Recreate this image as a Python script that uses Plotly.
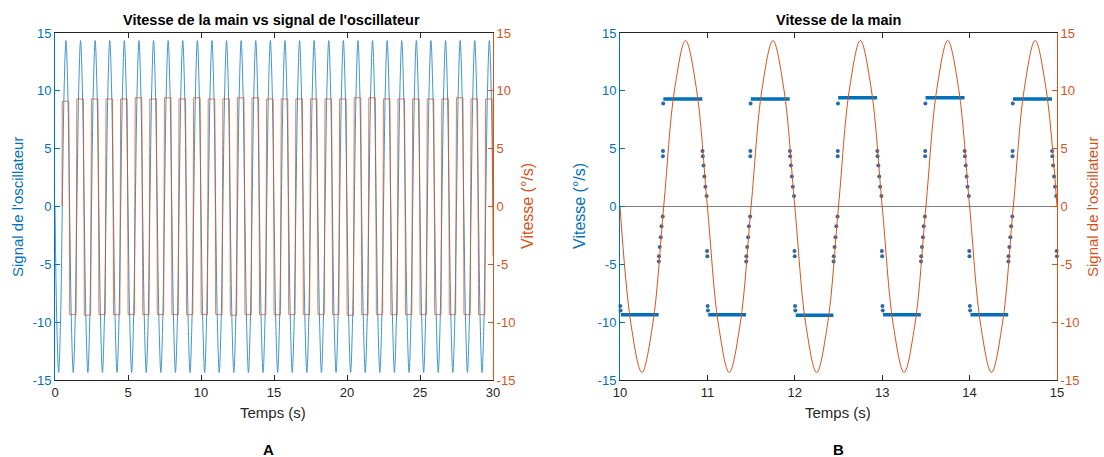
import plotly.graph_objects as go

W, H = 1104, 457

# ---------------- data ----------------
# oscillator signal: one cycle (1 s) sampled every 1/8 s, read from the picture
osc_cycle_t = [0.0, 0.125, 0.25, 0.375, 0.5, 0.625, 0.75, 0.875]
osc_cycle_v = [0.0, -10.15, -14.35, -10.15, 0.0, 10.15, 14.35, 10.15]
osc_duration = 30

# hand velocity: plateau levels per cycle (°/s)
vel_top = [9.1, 9.3, 9.3, 9.3, 9.3, 9.4, 9.3, 9.4, 9.3, 9.4,
           9.3, 9.3, 9.4, 9.4, 9.3, 9.3, 9.3, 9.3, 9.3, 9.3,
           9.4, 9.4, 9.3, 9.3, 9.3, 9.3, 9.3, 9.4, 9.3, 9.3]
vel_bot = [-9.35, -9.4, -9.35, -9.35, -9.35, -9.35, -9.35, -9.35, -9.35, -9.35,
           -9.35, -9.4, -9.35, -9.35, -9.35, -9.35, -9.35, -9.35, -9.35, -9.4,
           -9.35, -9.35, -9.35, -9.35, -9.35, -9.35, -9.35, -9.35, -9.35, -9.35]
# samples around the rising transition (time within cycle, value)
rise_t = [0.444, 0.446, 0.455, 0.466, 0.475, 0.489, 0.491, 0.492, 0.494]
rise_v = [-4.75, -4.3, -3.5, -2.65, -1.7, -0.86, 4.35, 4.8, 8.9]
# samples around the falling transition
fall_t = [0.944, 0.947, 0.956, 0.966, 0.977, 0.991, 0.996, 0.999, 1.003, 1.006]
fall_v = [4.8, 4.35, 3.55, 2.6, 1.7, 0.9, -3.85, -4.3, -8.6, -9.0]
top_start, top_end = 0.496, 0.942
bot_start, bot_end = 1.01, 1.442
vel_start = (0.48, 0.0)

y_ticks = [-15, -10, -5, 0, 5, 10, 15]
y_ticktext = ["-15", "-10", "-5", "0", "5", "10", "15"]
xA_ticks = [0, 5, 10, 15, 20, 25, 30]
xB_ticks = [10, 11, 12, 13, 14, 15]

# ---------------- build series ----------------
osc_t, osc_v = [], []
for n in range(osc_duration):
    for tt, vv in zip(osc_cycle_t, osc_cycle_v):
        osc_t.append(n + tt)
        osc_v.append(vv)
osc_t.append(float(osc_duration))
osc_v.append(0.0)

trans_t, trans_v = [], []
plateaus = []  # (t0, t1, level)
line_t, line_v = [vel_start[0]], [vel_start[1]]
ncyc = len(vel_top)
for n in range(ncyc):
    if n > 0:
        for tt, vv in zip(rise_t, rise_v):
            trans_t.append(n + tt); trans_v.append(vv)
            line_t.append(n + tt); line_v.append(vv)
    plateaus.append((n + top_start, n + top_end, vel_top[n]))
    line_t += [n + top_start, n + top_end]
    line_v += [vel_top[n], vel_top[n]]
    last = n == ncyc - 1
    for tt, vv in zip(fall_t, fall_v):
        if last and n + tt > 30:
            break
        trans_t.append(n + tt); trans_v.append(vv)
        line_t.append(n + tt); line_v.append(vv)
    if not last:
        plateaus.append((n + bot_start, n + bot_end, vel_bot[n]))
        line_t += [n + bot_start, n + bot_end]
        line_v += [vel_bot[n], vel_bot[n]]

BLUE = "#0072BD"
ORANGE = "#D95319"
DOT = "#2b6aa6"
FONT = "Liberation Sans, Arial, Helvetica, sans-serif"

fig = go.Figure()

# ---- panel A ----
fig.add_trace(go.Scatter(x=osc_t, y=osc_v, mode="lines", opacity=0.75,
                         line=dict(color=BLUE, width=1, shape="spline", smoothing=1.0),
                         xaxis="x", yaxis="y", showlegend=False, hoverinfo="skip"))
fig.add_trace(go.Scatter(x=line_t, y=line_v, mode="lines", opacity=0.75,
                         line=dict(color=ORANGE, width=1),
                         xaxis="x", yaxis="y2", showlegend=False, hoverinfo="skip"))

# ---- panel B ----
b0, b1 = 10.0, 15.0
for (t0, t1, lv) in plateaus:
    if t1 < b0 or t0 > b1:
        continue
    fig.add_trace(go.Scatter(x=[max(t0, b0), min(t1, b1)], y=[lv, lv], mode="lines",
                             line=dict(color=BLUE, width=3.5), xaxis="x2", yaxis="y3",
                             showlegend=False, hoverinfo="skip"))
bt = [t for t in trans_t if b0 - 0.01 <= t <= b1]
bv = [v for t, v in zip(trans_t, trans_v) if b0 - 0.01 <= t <= b1]
fig.add_trace(go.Scatter(x=bt, y=bv, mode="markers", marker=dict(color=DOT, size=4),
                         xaxis="x2", yaxis="y3", showlegend=False, hoverinfo="skip", cliponaxis=False))
bo_t = [t for t in osc_t if b0 <= t <= b1]
bo_v = [v for t, v in zip(osc_t, osc_v) if b0 <= t <= b1]
fig.add_trace(go.Scatter(x=bo_t, y=bo_v, mode="lines",
                         line=dict(color=ORANGE, width=1, shape="spline", smoothing=1.0),
                         xaxis="x2", yaxis="y4", showlegend=False, hoverinfo="skip"))

# ---------------- layout ----------------
def px(x):
    return x / W

def py(y):
    return 1 - y / H

top_px, bot_px = 33, 380
ydom = [py(bot_px), py(top_px)]
xdomA = [px(55), px(493)]
xdomB = [px(620), px(1057)]

tickfont = dict(family=FONT, size=13, color="#262626")

def xax(domain, rng, tv, anchor):
    return dict(domain=domain, range=rng, tickvals=tv, ticktext=[str(v) for v in tv], anchor=anchor,
                showgrid=False, zeroline=False, automargin=False,
                showline=True, linecolor="#262626", linewidth=1, mirror="ticks", ticks="inside",
                ticklen=5, tickcolor="#262626", tickfont=tickfont)

def yax(color, anchor, side="left", overlaying=None, zeroline=False):
    d = dict(domain=ydom, range=[-15, 15], tickvals=y_ticks, ticktext=y_ticktext, anchor=anchor, side=side,
             showgrid=False, automargin=False,
             zeroline=zeroline, zerolinecolor="#7f7f7f", zerolinewidth=1,
             showline=True, linecolor=color, linewidth=1, ticks="inside", ticklen=5,
             tickcolor=color, tickfont=dict(family=FONT, size=13, color=color))
    if overlaying:
        d["overlaying"] = overlaying
    return d

annotations = []

def ann(text, x, y, size=14, color="#262626", angle=0, bold=False):
    annotations.append(dict(text=f"<b>{text}</b>" if bold else text, x=px(x), y=py(y), xref="paper", yref="paper",
                            showarrow=False, textangle=angle, xanchor="center", yanchor="middle",
                            font=dict(family=FONT, size=size, color=color)))

ann("Vitesse de la main vs signal de l'oscillateur", 271, 20, size=14.5, color="#000000", bold=True)
ann("Vitesse de la main", 838, 20, size=14.5, color="#000000", bold=True)
ann("Temps (s)", 273, 412, size=15)
ann("Temps (s)", 838, 412, size=15)
ann("A", 268, 449, size=15, color="#000000", bold=True)
ann("B", 838, 449, size=15, color="#000000", bold=True)
ann("Signal de l'oscillateur", 17, 207, size=15, color=BLUE, angle=-90)
ann("Vitesse (°/s)", 527, 206, size=16, color=ORANGE, angle=-90)
ann("Vitesse (°/s)", 579, 206, size=16, color=BLUE, angle=-90)
ann("Signal de l'oscillateur", 1092, 207, size=15, color=ORANGE, angle=-90)

fig.update_layout(
    width=W, height=H, autosize=False,
    margin=dict(l=0, r=0, t=0, b=0, autoexpand=False),
    paper_bgcolor="white", plot_bgcolor="white",
    xaxis=xax(xdomA, [0, 30], xA_ticks, "y"),
    yaxis=yax(BLUE, "x"),
    yaxis2=yax(ORANGE, "x", side="right", overlaying="y"),
    xaxis2=xax(xdomB, [10, 15], xB_ticks, "y3"),
    yaxis3=yax(BLUE, "x2", zeroline=True),
    yaxis4=yax(ORANGE, "x2", side="right", overlaying="y3"),
    annotations=annotations,
    showlegend=False,
)

fig.write_html("out.html", config={"displayModeBar": False},
               post_script="document.body.style.margin='0';document.body.style.overflow='hidden';")
